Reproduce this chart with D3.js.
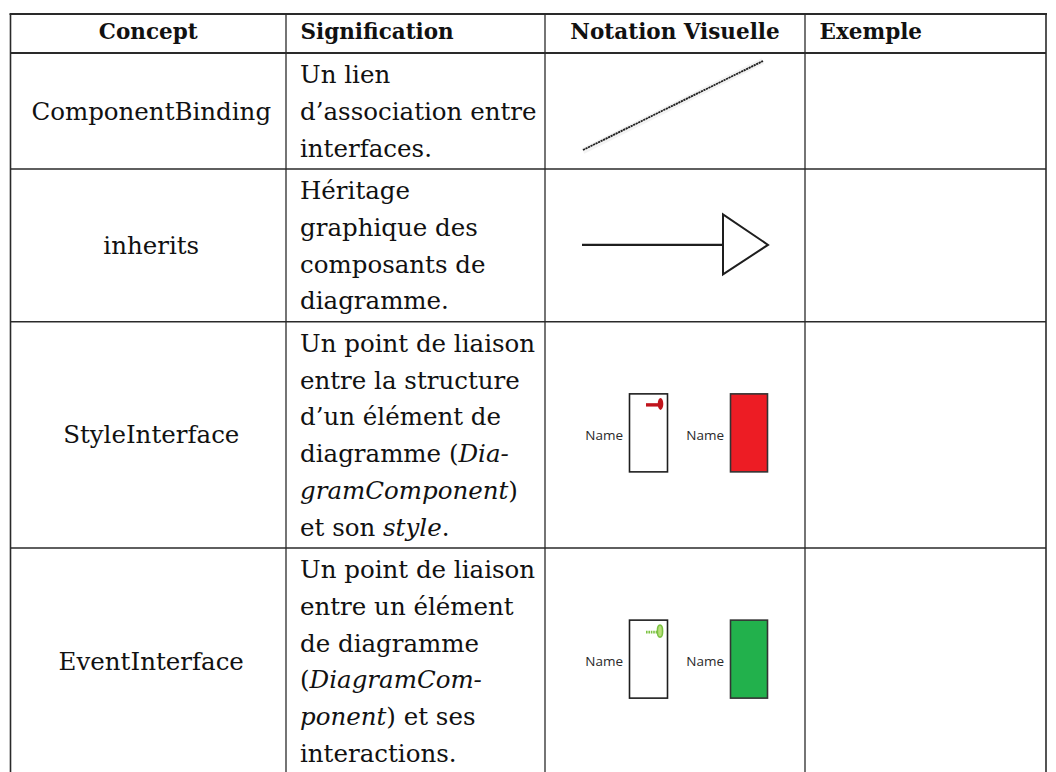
<!DOCTYPE html>
<html>
<head>
<meta charset="utf-8">
<script src="https://cdn.jsdelivr.net/npm/d3@7"></script>
<style>
  html, body { margin: 0; padding: 0; background: #fff; }
  svg { display: block; }
</style>
</head>
<body>
<div id="chart"></div>
<script>
// ---------- data ----------
const headers = ["Concept", "Signification", "Notation Visuelle", "Exemple"];
const concepts = ["ComponentBinding", "inherits", "StyleInterface", "EventInterface"];
// each description line is a list of [text, italic] runs
const descriptions = [
  [ [["Un lien", 0]], [["d’association entre", 0]], [["interfaces.", 0]] ],
  [ [["Héritage", 0]], [["graphique des", 0]], [["composants de", 0]], [["diagramme.", 0]] ],
  [ [["Un point de liaison", 0]], [["entre la structure", 0]], [["d’un élément de", 0]],
    [["diagramme (", 0], ["Dia-", 1]], [["gramComponent", 1], [")", 0]],
    [["et son ", 0], ["style", 1], [".", 0]] ],
  [ [["Un point de liaison", 0]], [["entre un élément", 0]], [["de diagramme", 0]],
    [["(", 0], ["DiagramCom-", 1]], [["ponent", 1], [") et ses", 0]], [["interactions.", 0]] ]
];
const notations = ["binding", "inherits", "style", "event"];
const interfaceLabels = ["Name", "Name"];
const interfaceColors = { style: "#ed1c24", event: "#22b14c" };
const keyColors = { style: "#c0141c", event: "#7cc242" };

// ---------- layout ----------
const W = 1056, H = 772;
const colEdges = [10.5, 286, 545, 805, 1046];
const tableTop = 14, headerBottom = 53;
const lineH = 36.75, rowPad = 5.75, firstBaseline = 30;
const bodyFont = "'DejaVu Serif', serif";

const svg = d3.select("#chart").append("svg")
  .attr("width", W).attr("height", H);

// row geometry derived from number of text lines
const rowHeights = descriptions.map(d => d.length * lineH + rowPad);
const rowTops = [];
rowHeights.reduce((acc, h, i) => { rowTops[i] = acc; return acc + h; }, headerBottom);
const tableBottom = rowTops[rowTops.length - 1] + rowHeights[rowHeights.length - 1];

const x = d3.scaleOrdinal().domain(headers).range(colEdges.slice(0, 4));
const colW = headers.map((h, i) => colEdges[i + 1] - colEdges[i]);

// ---------- header ----------
const hdr = svg.append("g").attr("font-family", bodyFont)
  .attr("font-weight", "bold").attr("font-size", 21.5).attr("fill", "#111");
headers.forEach((h, i) => {
  const centered = i === 0 || i === 2;
  hdr.append("text")
    .attr("x", centered ? x(h) + colW[i] / 2 : x(h) + 14.5)
    .attr("y", 39)
    .attr("text-anchor", centered ? "middle" : "start")
    .text(h);
});

// ---------- body text ----------
const body = svg.append("g").attr("font-family", bodyFont)
  .attr("font-size", 24.5).attr("fill", "#111");

concepts.forEach((c, i) => {
  body.append("text")
    .attr("x", x(headers[0]) + colW[0] / 2 + 3)
    .attr("y", rowTops[i] + rowHeights[i] / 2)
    .attr("dy", "0.35em")
    .attr("text-anchor", "middle")
    .text(c);
});

descriptions.forEach((lines, i) => {
  lines.forEach((runs, j) => {
    const t = body.append("text")
      .attr("x", x(headers[1]) + 14)
      .attr("y", rowTops[i] + firstBaseline + j * lineH);
    runs.forEach(([txt, it]) => {
      t.append("tspan").attr("font-style", it ? "italic" : "normal").text(txt);
    });
  });
});

// ---------- notation icons ----------
const ink = "#1e1e1e";
notations.forEach((n, i) => {
  const cx = x(headers[2]);
  const cy = rowTops[i] + rowHeights[i] / 2;
  const g = svg.append("g").attr("transform", `translate(${cx},${cy})`);
  if (n === "binding") {
    g.append("line").attr("x1", 38).attr("y1", 40).attr("x2", 218).attr("y2", -50)
      .attr("stroke", "#ddd").attr("stroke-width", 6).attr("opacity", 0.35);
    g.append("line").attr("x1", 38).attr("y1", 39).attr("x2", 218).attr("y2", -50)
      .attr("stroke", ink).attr("stroke-width", 1.8).attr("stroke-dasharray", "2.2,0.6");
  } else if (n === "inherits") {
    g.append("line").attr("x1", 37).attr("y1", -0.5).attr("x2", 178).attr("y2", -0.5)
      .attr("stroke", ink).attr("stroke-width", 2.2);
    g.append("path").attr("d", "M178,-31 L178,29 L223,-0.5 Z")
      .attr("fill", "none").attr("stroke", ink).attr("stroke-width", 2)
      .attr("stroke-linejoin", "miter");
  } else {
    const top = -41, h = 78;
    // labels
    g.selectAll("text.lbl").data(interfaceLabels).enter().append("text")
      .attr("class", "lbl")
      .attr("x", (d, k) => k === 0 ? 78 : 179)
      .attr("y", top + h / 2 + 2)
      .attr("dy", "0.35em")
      .attr("text-anchor", "end")
      .attr("font-family", "'Open Sans', sans-serif")
      .attr("font-size", 13.5)
      .attr("fill", "#2a2a2a")
      .text(d => d);
    // empty box
    g.append("rect").attr("x", 84.5).attr("y", top).attr("width", 38).attr("height", h)
      .attr("fill", "#fff").attr("stroke", ink).attr("stroke-width", 1.6);
    // filled box
    g.append("rect").attr("x", 185.5).attr("y", top).attr("width", 37).attr("height", h)
      .attr("fill", interfaceColors[n]).attr("stroke", "#333").attr("stroke-width", 1.6);
    // key / pin glyph
    const kc = keyColors[n];
    if (n === "style") {
      g.append("line").attr("x1", 101).attr("x2", 114).attr("y1", top + 11).attr("y2", top + 11)
        .attr("stroke", kc).attr("stroke-width", 3.4);
      g.append("ellipse").attr("cx", 115.5).attr("cy", top + 10).attr("rx", 2.8).attr("ry", 6)
        .attr("fill", kc);
    } else {
      g.append("line").attr("x1", 101).attr("x2", 112).attr("y1", top + 12).attr("y2", top + 12)
        .attr("stroke", kc).attr("stroke-width", 2.6).attr("stroke-dasharray", "1.6,0.8");
      g.append("ellipse").attr("cx", 115).attr("cy", top + 11).attr("rx", 2.6).attr("ry", 6)
        .attr("fill", "#b8e07a").attr("stroke", kc).attr("stroke-width", 1.6);
    }
  }
});

// ---------- grid lines ----------
const grid = svg.append("g").attr("stroke", "#2a2a2a");
grid.append("line").attr("x1", colEdges[0] - 1).attr("x2", colEdges[4] + 1)
  .attr("y1", tableTop).attr("y2", tableTop).attr("stroke-width", 2);
grid.append("line").attr("x1", colEdges[0]).attr("x2", colEdges[4])
  .attr("y1", headerBottom).attr("y2", headerBottom).attr("stroke-width", 2);
rowTops.slice(1).concat([tableBottom]).forEach(y => {
  grid.append("line").attr("x1", colEdges[0]).attr("x2", colEdges[4])
    .attr("y1", y).attr("y2", y).attr("stroke-width", 1.3);
});
colEdges.forEach((cx, i) => {
  grid.append("line").attr("x1", cx).attr("x2", cx)
    .attr("y1", tableTop).attr("y2", tableBottom)
    .attr("stroke-width", (i === 0 || i === 4) ? 1.6 : 1.3);
});
</script>
</body>
</html>
